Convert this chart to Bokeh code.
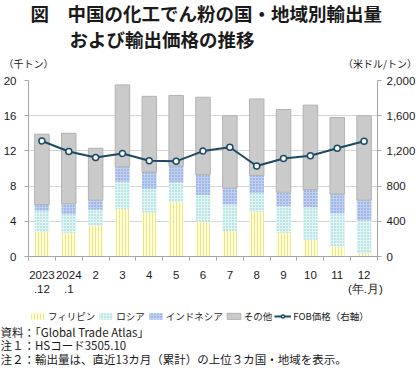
from bokeh.plotting import figure
from bokeh.layouts import column
from bokeh.models import (ColumnDataSource, Range1d, LinearAxis, FixedTicker,
                          NumeralTickFormatter, Title, Legend, LegendItem)
from bokeh.embed import file_html
from bokeh.resources import INLINE

# ---- data ----
categories = ["2023\n.12", "2024\n.1", "2", "3", "4", "5", "6", "7", "8", "9", "10", "11", "12"]
philippines = [2.8, 2.7, 3.5, 5.4, 5.0, 6.2, 3.9, 2.9, 5.1, 2.7, 1.9, 1.1, 0.35]
russia = [2.4, 2.1, 1.8, 3.1, 2.7, 2.2, 3.1, 3.0, 2.1, 3.0, 3.7, 3.8, 3.75]
indonesia = [0.7, 1.2, 1.1, 1.7, 1.9, 1.9, 2.3, 1.9, 2.0, 1.6, 2.0, 2.2, 2.3]
others = [8.0, 8.0, 5.9, 9.3, 8.6, 8.0, 8.8, 8.2, 8.7, 9.4, 9.6, 8.7, 9.6]
fob_price = [1313, 1193, 1126, 1171, 1088, 1081, 1198, 1242, 1028, 1114, 1144, 1231, 1310]
left_ticks = [0, 4, 8, 12, 16, 20]
right_ticks = [0, 400, 800, 1200, 1600, 2000]
series_names = ["フィリピン", "ロシア", "インドネシア", "その他", "FOB価格（右軸）"]
x_unit = "(年.月)"
left_unit = "（千トン）"
right_unit = "\u3000（米ドル/トン）"
title1 = "図　中国の化工でん粉の国・地域別輸出量"
title2 = "および輸出価格の推移"
notes = ["資料：「Global Trade Atlas」",
         "注１：HSコード3505.10",
         "注２：輸出量は、直近13カ月（累計）の上位３カ国・地域を表示。"]

JP = "Noto Sans CJK JP"
NUM = "Liberation Sans"
LC = "#1C4A66"
AX = "#A6A6A6"
TXT = "#1A1A1A"
FILLS = ["#FFFFD0", "#E2F5F5", "#BFD0F0", "#CACACA"]
LINES = [None, None, None, "#B2B2B2"]
HATCH = ["|", ".", ".", " "]
HCOL = ["#EEE29A", "#7FCACA", "#6F8ED4", "#CACACA"]

W = 420
BL, BR = 28, 43

n = len(categories)
xs = [i + 0.5 for i in range(n)]
src = ColumnDataSource(dict(x=xs, phil=philippines, rus=russia, indo=indonesia,
                            oth=others, fob=fob_price))

# ---------- chart ----------
p = figure(width=W, height=297, x_range=Range1d(0, n), y_range=Range1d(0, 20),
           output_backend="svg", toolbar_location=None,
           min_border_left=BL, min_border_right=BR,
           min_border_top=79, min_border_bottom=40)
p.outline_line_color = None

bars = p.vbar_stack(["phil", "rus", "indo", "oth"], x="x", width=0.54, source=src,
                    fill_color=FILLS, line_color=LINES, hatch_pattern=HATCH,
                    hatch_color=HCOL, hatch_scale=[3, 3, 3, 3], hatch_weight=[1, 1, 1, 1])

p.extra_y_ranges = {"price": Range1d(0, 2000)}
p.line("x", "fob", source=src, y_range_name="price", line_color=LC, line_width=2)
p.scatter("x", "fob", source=src, y_range_name="price", size=6,
          fill_color="white", line_color=LC, line_width=1.5)

unit_tick = n - 0.45
xa = p.xaxis[0]
xa.ticker = FixedTicker(ticks=xs + [unit_tick], minor_ticks=list(range(n + 1)))
overrides = {xv: lbl for xv, lbl in zip(xs, categories)}
overrides[unit_tick] = "\n" + x_unit
xa.major_label_overrides = overrides
xa.major_tick_line_color = None
xa.minor_tick_line_color = AX
xa.minor_tick_in = 0
xa.minor_tick_out = 4
xa.axis_line_color = AX
xa.major_label_standoff = 6
xa.major_label_text_font = NUM
xa.major_label_text_font_size = "11.5px"
xa.major_label_text_color = TXT

ya = p.yaxis[0]
ya.ticker = FixedTicker(ticks=left_ticks)
ya.axis_line_color = AX
ya.major_tick_line_color = AX
ya.major_tick_in = 0
ya.major_tick_out = 4
ya.minor_tick_line_color = None
ya.major_label_standoff = 8
ya.major_label_text_font = NUM
ya.major_label_text_font_size = "11.5px"
ya.major_label_text_color = TXT

ra = LinearAxis(y_range_name="price", ticker=FixedTicker(ticks=right_ticks),
                formatter=NumeralTickFormatter(format="0,0"))
ra.axis_line_color = AX
ra.major_tick_line_color = AX
ra.major_tick_in = 0
ra.major_tick_out = 4
ra.minor_tick_line_color = None
ra.major_label_standoff = 5
ra.major_label_text_font = NUM
ra.major_label_text_font_size = "11.5px"
ra.major_label_text_color = TXT
p.add_layout(ra, "right")

p.xgrid.visible = False
p.ygrid.ticker = FixedTicker(ticks=left_ticks)
p.ygrid.grid_line_color = "#D6D6D6"

# unit labels: a bare axis above the frame, labels at the two frame edges
ua = LinearAxis(ticker=FixedTicker(ticks=[0, n]),
                major_label_overrides={0: left_unit, n: right_unit})
ua.axis_line_color = None
ua.major_tick_line_color = None
ua.major_tick_in = 0
ua.major_tick_out = 0
ua.minor_tick_line_color = None
ua.major_label_standoff = 10
ua.major_label_text_font = JP
ua.major_label_text_font_size = "10px"
ua.major_label_text_color = TXT
p.add_layout(ua, "above")

p.add_layout(Title(text=title2, align="left", offset=69 - BL, standoff=2,
                   text_font=JP, text_font_size="18.5px", text_font_style="bold",
                   text_color=TXT), "above")
p.add_layout(Title(text=title1, align="left", offset=30 - BL, standoff=-6,
                   text_font=JP, text_font_size="18.5px", text_font_style="bold",
                   text_color=TXT), "above")

# ---------- bottom: legend and notes ----------
bot = figure(width=W, height=78, x_range=Range1d(0, 1), y_range=Range1d(0, 1),
             x_axis_type=None, y_axis_type=None, output_backend="svg",
             toolbar_location=None, min_border_left=BL, min_border_right=BR,
             min_border_top=0, min_border_bottom=52)
bot.outline_line_color = None
bot.xgrid.visible = False
bot.ygrid.visible = False

proxy = ColumnDataSource(dict(x=[-100], top=[-100], y=[-100]))
leg_r = []
for i in range(4):
    leg_r.append(bot.vbar(x="x", top="top", width=1, source=proxy,
                          fill_color=FILLS[i], line_color=LINES[i],
                          hatch_pattern=HATCH[i], hatch_color=HCOL[i],
                          hatch_scale=3, hatch_weight=1))
l_ln = bot.line(x="x", y="y", source=proxy, line_color=LC, line_width=2)
l_pt = bot.scatter(x="x", y="y", source=proxy, size=6, fill_color="white",
                   line_color=LC, line_width=1.5)
items = [LegendItem(label=series_names[i], renderers=[leg_r[i]]) for i in range(4)]
items.append(LegendItem(label=series_names[4], renderers=[l_ln, l_pt]))
leg = Legend(items=items, orientation="horizontal", location=(1, 0),
             glyph_width=17, glyph_height=8, label_height=12, label_standoff=2,
             spacing=2, padding=2, margin=0,
             label_text_font=JP, label_text_font_size="9.5px",
             label_text_color=TXT,
             border_line_color=None, background_fill_alpha=0)
bot.add_layout(leg, "center")

bot.add_layout(Title(text="\n".join(notes), align="left", offset=-BL, standoff=0,
                     vertical_align="top", text_font=JP, text_font_size="11.5px",
                     text_font_style="normal", text_line_height=0.85,
                     text_color=TXT), "below")

layout = column(p, bot, spacing=0)
open("out.html", "w").write(file_html(layout, INLINE))
